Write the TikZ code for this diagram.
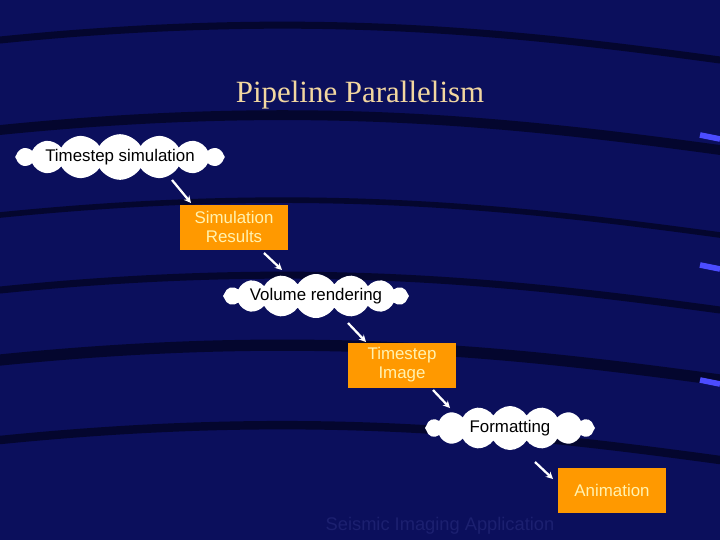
\documentclass[tikz,border=0pt]{standalone}
\usepackage{fontspec}
\setmainfont{Liberation Serif}
\setsansfont{Liberation Sans}
\usetikzlibrary{shapes.symbols,arrows.meta}
\definecolor{bgnavy}{HTML}{0B0F5C}
\definecolor{streak}{HTML}{04062E}
\definecolor{boxorange}{HTML}{FF9900}
\definecolor{titletan}{HTML}{F2D7A0}
\definecolor{boxtext}{HTML}{FFF2B0}
\definecolor{faint}{HTML}{1C2070}
\tikzset{
  stagecloud/.style={cloud,cloud puffs=16,cloud puff arc=120,cloud ignores aspect,fill=white,draw=none,
    minimum width=170*0.025cm,minimum height=44*0.025cm,inner sep=0pt,font=\sffamily\fontsize{12}{13}\selectfont},
  databox/.style={rectangle,fill=boxorange,text=boxtext,align=center,minimum width=108*0.025cm,
    minimum height=45*0.025cm,inner sep=0pt,font=\sffamily\fontsize{12}{13.5}\selectfont},
  flow/.style={white,line width=1.6pt,-{Stealth[length=5pt,width=5pt]}}
}
\begin{document}
\begin{tikzpicture}[x=0.025cm,y=-0.025cm]
    % background and streaks
    \fill[bgnavy] (0,0) rectangle (720,540);
    \useasboundingbox (0,0) rectangle (720,540);
    \foreach \y/\w in {40/5,130/7,215/4,290/5,360/8,440/6}
        \draw[streak,line width=\w pt,line cap=round] (0,\y) .. controls (300,\y-30) and (500,\y-10) .. (720,\y+20);
    \foreach \y in {135,265,380}
        \draw[blue!70!white,line width=4pt] (700,\y) -- (720,\y+4);

    % title
    \node[text=titletan,font=\fontsize{22}{24}\selectfont] (title) at (360,95) {Pipeline Parallelism};

    % stages
    \node[stagecloud] (sim) at (120,157) {Timestep simulation};
    \node[databox] (simres) at (234,227) {Simulation\\Results};
    \node[stagecloud] (vol) at (316,296) {Volume rendering};
    \node[databox] (tsimg) at (402,365) {Timestep\\Image};
    \node[stagecloud] (fmt) at (510,428) {Formatting};
    \node[databox] (anim) at (612,490) {Animation};

    % connector ends
    \coordinate (a1) at (172,180); \coordinate (b1) at (191,203);
    \coordinate (a2) at (264,253); \coordinate (b2) at (282,270);
    \coordinate (a3) at (348,323); \coordinate (b3) at (366,342);
    \coordinate (a4) at (433,390); \coordinate (b4) at (450,408);
    \coordinate (a5) at (535,462); \coordinate (b5) at (553,479);
    \foreach \i in {1,...,5}
        \draw[flow] (a\i) -- (b\i);

    \node[text=faint,font=\sffamily\fontsize{13}{14}\selectfont] (caption) at (440,526) {Seismic Imaging Application};
\end{tikzpicture}
\end{document}
